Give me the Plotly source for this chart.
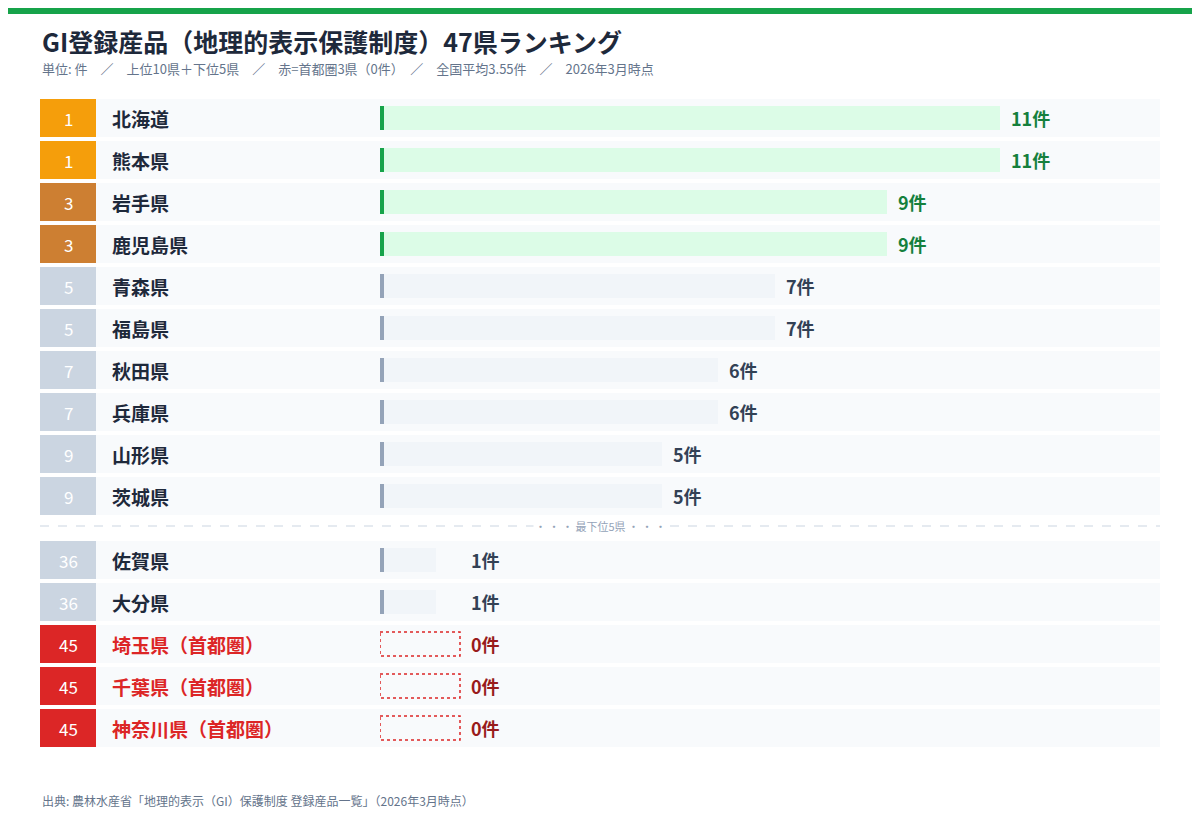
import plotly.graph_objects as go

ranks = [1, 1, 3, 3, 5, 5, 7, 7, 9, 9, 36, 36, 45, 45, 45]
prefs = ["北海道", "熊本県", "岩手県", "鹿児島県", "青森県", "福島県", "秋田県", "兵庫県",
         "山形県", "茨城県", "佐賀県", "大分県", "埼玉県（首都圏）", "千葉県（首都圏）", "神奈川県（首都圏）"]
counts = [11, 11, 9, 9, 7, 7, 6, 6, 5, 5, 1, 1, 0, 0, 0]
kinds = ["top"] * 4 + ["mid"] * 8 + ["red"] * 3

W, H = 1200, 820
O = 8                  # page margin offset in the browser
PX = 620 / 11          # px per unit on x
FONT = "Noto Sans CJK JP"


def px(x):
    return (x - O) / W


def py(y):
    return 1 - (y - O) / H


# row positions: bottom five pushed down to leave room for the separator
pos = [i if i < 10 else i + 22 / 42 for i in range(len(prefs))]

rank_bg = {1: "#f59e0b", 3: "#cd7f32"}
bar_fill = {"top": "#dcfce7", "mid": "#f1f5f9", "red": "rgba(0,0,0,0)"}
accent = {"top": "#16a34a", "mid": "#94a3b8", "red": "#dc2626"}
lab_col = {"top": "#15803d", "mid": "#334155", "red": "#991b1b"}
name_col = {"top": "#1e293b", "mid": "#1e293b", "red": "#dc2626"}

fig = go.Figure()
fig.add_trace(go.Bar(
    x=counts, y=pos, orientation="h", width=24 / 42,
    marker=dict(color=[bar_fill[k] for k in kinds], line=dict(width=0)),
    hoverinfo="skip", showlegend=False,
))

shapes = [dict(type="rect", xref="paper", yref="paper", x0=-0.02, x1=1.02, y0=py(14), y1=1.02,
               fillcolor="#16a34a", line=dict(width=0))]
ann = []
zero_w = 80 / PX
for p, r, name, v, k in zip(pos, ranks, prefs, counts, kinds):
    shapes.append(dict(type="rect", xref="paper", yref="y", layer="below",
                       x0=px(40), x1=px(1160), y0=p - 19 / 42, y1=p + 19 / 42,
                       fillcolor="#f8fafc", line=dict(width=0)))
    rb = "#dc2626" if k == "red" else rank_bg.get(r, "#cbd5e1")
    shapes.append(dict(type="rect", xref="paper", yref="y",
                       x0=px(40), x1=px(96), y0=p - 19 / 42, y1=p + 19 / 42,
                       fillcolor=rb, line=dict(width=0)))
    ann.append(dict(x=px(68), xref="paper", y=p, yref="y", text=str(r), showarrow=False,
                    xanchor="center", font=dict(size=17, color="white", family=FONT)))
    ann.append(dict(x=px(110), xref="paper", y=p, yref="y", text="<b>%s</b>" % name,
                    showarrow=False, xanchor="left",
                    font=dict(size=19, color=name_col[k], family=FONT)))
    if v == 0:
        shapes.append(dict(type="rect", xref="x", yref="y", x0=0, x1=zero_w,
                           y0=p - 12 / 42, y1=p + 12 / 42,
                           line=dict(color="#dc2626", width=1.5, dash="dot")))
    else:
        shapes.append(dict(type="rect", xref="x", yref="y", x0=0, x1=4 / PX,
                           y0=p - 12 / 42, y1=p + 12 / 42,
                           fillcolor=accent[k], line=dict(width=0)))
    ann.append(dict(x=max(v, zero_w), xref="x", y=p, yref="y", text="<b>%d件</b>" % v,
                    showarrow=False, xanchor="left", xshift=9,
                    font=dict(size=18, color=lab_col[k], family=FONT)))

sep = (526 - 118) / 42
shapes.append(dict(type="line", xref="paper", yref="y", x0=px(40), x1=px(1160), y0=sep, y1=sep,
                   line=dict(color="#cbd5e1", width=1, dash="dash")))
ann.append(dict(x=px(600), xref="paper", y=sep, yref="y", text="・ ・ ・ 最下位5県 ・ ・ ・",
                showarrow=False, bgcolor="white", xanchor="center",
                font=dict(size=11, color="#94a3b8", family=FONT)))

ann.append(dict(x=px(40), xref="paper", y=py(41), yref="paper", xanchor="left", yanchor="middle",
                text="<b>GI登録産品（地理的表示保護制度）47県ランキング</b>", showarrow=False,
                font=dict(size=25, color="#1e293b", family=FONT)))
ann.append(dict(x=px(40), xref="paper", y=py(69), yref="paper", xanchor="left", yanchor="middle",
                text="単位: 件　／　上位10県＋下位5県　／　赤=首都圏3県（0件）　／　全国平均3.55件　／　2026年3月時点",
                showarrow=False, font=dict(size=13, color="#64748b", family=FONT)))
ann.append(dict(x=px(40), xref="paper", y=py(800), yref="paper", xanchor="left", yanchor="middle",
                text="出典: 農林水産省「地理的表示（GI）保護制度 登録産品一覧」（2026年3月時点）",
                showarrow=False, font=dict(size=12, color="#64748b", family=FONT)))

fig.update_layout(
    width=W, height=H, margin=dict(l=0, r=0, t=0, b=0),
    paper_bgcolor="white", plot_bgcolor="rgba(0,0,0,0)",
    shapes=shapes, annotations=ann, bargap=0,
    xaxis=dict(domain=[px(380), px(1000)], range=[0, 11], visible=False, fixedrange=True),
    yaxis=dict(domain=[0, 1], range=[(H + O - 118) / 42, (O - 118) / 42], visible=False,
               fixedrange=True),
    font=dict(family=FONT),
)
fig.write_html("out.html")
